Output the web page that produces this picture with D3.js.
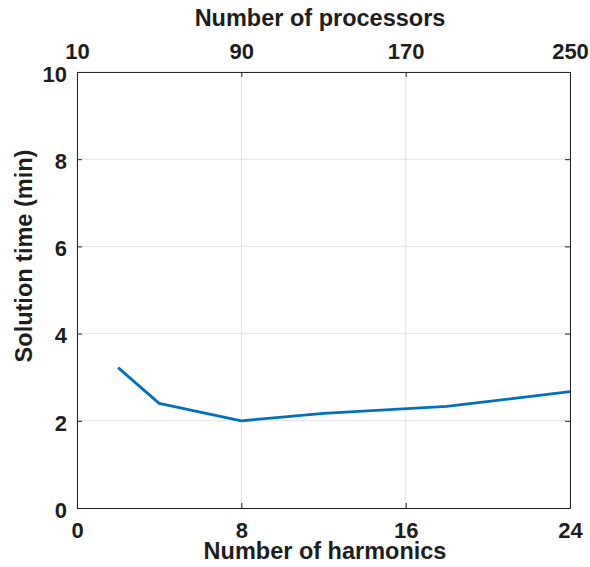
<!DOCTYPE html>
<html>
<head>
<meta charset="utf-8">
<script src="https://cdn.jsdelivr.net/npm/d3@7"></script>
<style>
body { margin: 0; background: #fff; }
text { font-family: "Liberation Sans", Arial, sans-serif; font-weight: bold; fill: #1e1e1e; }
</style>
</head>
<body>
<div id="chart"></div>
<script>
var harmonics = [2, 4, 8, 12, 18, 24];
var solutionTime = [3.22, 2.40, 2.00, 2.17, 2.33, 2.67];
var bottomTicks = [0, 8, 16, 24];
var topTicks = [10, 90, 170, 250];
var yTicks = [0, 2, 4, 6, 8, 10];

var width = 590, height = 567;
var margin = {left: 77, right: 20, top: 72, bottom: 59};
var w = width - margin.left - margin.right, h = height - margin.top - margin.bottom;

var svg = d3.select('#chart').append('svg')
  .attr('width', width)
  .attr('height', height);
var g = svg.append('g').attr('transform', 'translate(' + margin.left + ',' + margin.top + ')');

var x = d3.scaleLinear().domain([0, 24]).range([0, w]);
var xTop = d3.scaleLinear().domain([10, 250]).range([0, w]);
var y = d3.scaleLinear().domain([0, 10]).range([h, 0]);

// grid
g.selectAll('.gx').data(bottomTicks).enter().append('line')
  .attr('x1', function(d) {return x(d);}).attr('x2', function(d) {return x(d);})
  .attr('y1', 0).attr('y2', h)
  .attr('stroke', '#e3e3e3').attr('stroke-width', 1);
g.selectAll('.gy').data(yTicks).enter().append('line')
  .attr('y1', function(d) {return y(d);}).attr('y2', function(d) {return y(d);})
  .attr('x1', 0).attr('x2', w)
  .attr('stroke', '#e3e3e3').attr('stroke-width', 1);

function styleAxis(sel) {
  sel.select('.domain').attr('stroke', '#262626').attr('stroke-width', 1);
  sel.selectAll('.tick line').attr('stroke', '#262626');
  sel.selectAll('.tick text').style('font-size', '22px').attr('fill', '#1e1e1e');
}

var axBottom = g.append('g').attr('transform', 'translate(0,' + h + ')')
  .call(d3.axisBottom(x).tickValues(bottomTicks).tickSizeInner(-5).tickSizeOuter(0).tickPadding(14));
styleAxis(axBottom);
var axTop = g.append('g')
  .call(d3.axisTop(xTop).tickValues(topTicks).tickSizeInner(-5).tickSizeOuter(0).tickPadding(13));
styleAxis(axTop);
var axLeft = g.append('g')
  .call(d3.axisLeft(y).tickValues(yTicks).tickSizeInner(-5).tickSizeOuter(0).tickPadding(10));
styleAxis(axLeft);
axLeft.selectAll('.tick text').attr('dy', '0.42em');
var axRight = g.append('g').attr('transform', 'translate(' + w + ',0)')
  .call(d3.axisRight(y).tickValues(yTicks).tickSizeInner(-5).tickSizeOuter(0).tickFormat(''));
styleAxis(axRight);

// data line
var line = d3.line()
  .x(function(d, i) {return x(harmonics[i]);})
  .y(function(d) {return y(d);});
g.append('path').datum(solutionTime)
  .attr('d', line)
  .attr('fill', 'none')
  .attr('stroke', '#0072BD')
  .attr('stroke-width', 2.8)
  .attr('stroke-linejoin', 'round');

// titles
svg.append('text').text('Number of harmonics')
  .attr('x', 325).attr('y', 559)
  .attr('text-anchor', 'middle').style('font-size', '23.5px');
svg.append('text').text('Number of processors')
  .attr('x', 320).attr('y', 26)
  .attr('text-anchor', 'middle').style('font-size', '23.5px');
svg.append('text').text('Solution time (min)')
  .attr('transform', 'translate(32,256) rotate(-90)')
  .attr('text-anchor', 'middle').style('font-size', '23.5px');
</script>
</body>
</html>
